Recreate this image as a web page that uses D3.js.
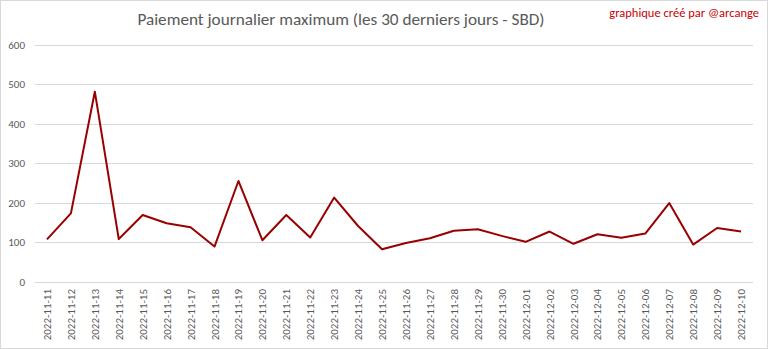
<!DOCTYPE html>
<html><head><meta charset="utf-8">
<script src="https://cdn.jsdelivr.net/npm/d3@7"></script>
<style>body{margin:0;background:#fff}svg{display:block}</style>
</head><body>
<script>
const dates = ["2022-11-11","2022-11-12","2022-11-13","2022-11-14","2022-11-15","2022-11-16","2022-11-17","2022-11-18","2022-11-19","2022-11-20","2022-11-21","2022-11-22","2022-11-23","2022-11-24","2022-11-25","2022-11-26","2022-11-27","2022-11-28","2022-11-29","2022-11-30","2022-12-01","2022-12-02","2022-12-03","2022-12-04","2022-12-05","2022-12-06","2022-12-07","2022-12-08","2022-12-09","2022-12-10"];
const values = [107,173,481,108,169,148,138,89,255,105,169,112,213,141,82,98,110,129,133,116,101,127,96,120,111,122,199,94,136,127];
const yTicks = [0,100,200,300,400,500,600];
const title = "Paiement journalier maximum (les 30 derniers jours - SBD)";
const credit = "graphique créé par @arcange";

(function(){
const W = 768, H = 349;
const svg = d3.select("body").append("svg").attr("width", W).attr("height", H);
svg.append("rect").attr("x",0.5).attr("y",0.5).attr("width",W-1).attr("height",H-1)
  .attr("fill","#fff").attr("stroke","#d9d9d9");

const pl = 35, pr = 753, pt = 44.7, pb = 281.7;
const x = d3.scaleBand().domain(dates).range([pl, pr]);
const y = d3.scaleLinear().domain([0,600]).range([pb, pt]);

const font = "Carlito, Lato, 'Open Sans', sans-serif";

svg.append("g").selectAll("line").data(yTicks).join("line")
  .attr("x1", pl).attr("x2", pr)
  .attr("y1", d => Math.round(y(d))+0.5).attr("y2", d => Math.round(y(d))+0.5)
  .attr("stroke","#d9d9d9").attr("stroke-width",1);

svg.append("g").selectAll("text").data(yTicks).join("text")
  .attr("x", 25).attr("y", d => y(d)).attr("dy","0.35em")
  .attr("text-anchor","end").attr("font-family",font).attr("font-size",11)
  .attr("fill","#595959").text(d => d);

svg.append("g").selectAll("text").data(dates).join("text")
  .attr("transform", d => `translate(${x(d)+x.bandwidth()/2+4},${289}) rotate(-90)`)
  .attr("text-anchor","end").attr("font-family",font).attr("font-size",11)
  .attr("fill","#595959").text(d => d);

const line = d3.line().x((d,i) => x(dates[i]) + x.bandwidth()/2).y(d => y(d));
svg.append("path").datum(values).attr("d", line)
  .attr("fill","none").attr("stroke","#990000").attr("stroke-width",2).attr("stroke-linejoin","round");

svg.append("text").attr("x", 341).attr("y", 25).attr("text-anchor","middle")
  .attr("font-family",font).attr("font-size",17.2).attr("fill","#595959").text(title);
svg.append("text").attr("x", 759).attr("y", 17).attr("text-anchor","end")
  .attr("font-family",font).attr("font-size",12.5).attr("fill","#c80000").text(credit);
})();
</script>
</body></html>
